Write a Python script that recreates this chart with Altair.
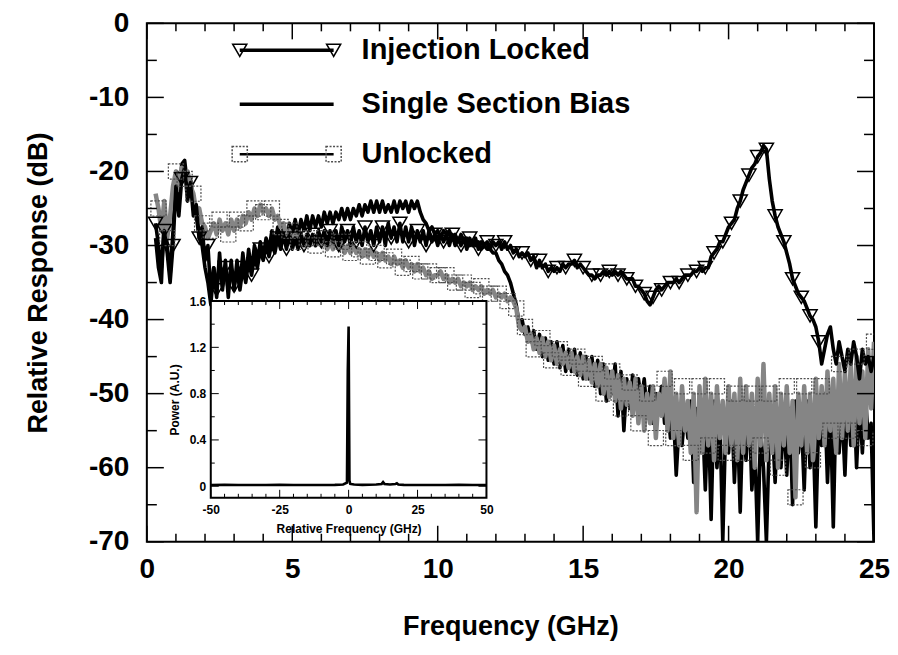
import numpy as np
import pandas as pd
import altair as alt

FONT = "Liberation Sans"

# ---------------- data ----------------
freq_start = 0.3   # GHz, first sample
freq_step = 0.1    # GHz, sampling step

injection_locked = [
    -27, -30, -33, -28, -31, -35, -30,
    -22, -26, -21, -19.5, -24, -21.5, -26, -24.5, -29, -27.5,
    -32, -30, -36.5, -33, -36, -32, -35.5, -33, -36, -33,
    -35.5, -33.5, -36, -33, -35, -32, -34, -31.5, -33, -30.5,
    -32, -30, -31.5, -29.5, -31, -29, -30.5, -28.5, -30.5, -28.5,
    -30.5, -29, -30.5, -28.5, -30, -28.5, -30, -28.5, -30, -28,
    -29.5, -28, -30, -28, -29.5, -28, -30, -27.5, -29.5, -28,
    -30, -27.5, -29.5, -28, -30, -27.5, -29.5, -28, -30, -27.5,
    -29.5, -27.5, -30, -27, -29, -27.5, -29.5, -27, -29.5, -27.5,
    -29.5, -27.5, -30, -28, -29.5, -28, -30, -28, -29.5, -28.5,
    -30, -28.5, -29.5, -28.5, -30, -28.5, -30, -29, -30, -29,
    -30.5, -29, -30, -29, -30.5, -29.5, -30, -29.5, -30.5, -29.5,
    -30, -29.5, -30.5, -29.5, -30.5, -30, -31, -30.5, -31.5, -31,
    -31.5, -31, -32, -31.5, -33, -32, -33, -32.5, -33.5, -33,
    -33.5, -33, -33.5, -32.5, -33, -32.5, -32.5, -32, -33, -32.5,
    -33, -33.5, -34, -34, -34.5, -34, -34, -33.5, -34, -33.5,
    -34, -33.5, -34, -33.5, -34, -34.5, -34.5, -34.5, -35.5, -35.5,
    -36, -36.5, -37.5, -38, -37, -36, -35.5, -36, -35.5, -35,
    -35, -35, -34.5, -35, -34.5, -34, -34, -34, -33.5, -33.5,
    -33, -33.5, -33, -33, -31.5, -31, -30.5, -29.5, -29.5, -28.5,
    -27.5, -27, -26.5, -25, -24, -22.5, -21.5, -20.5, -19.5, -19,
    -18, -17.5, -16.5, -17, -21, -24, -26, -27.5, -28.5, -29.5,
    -31, -32.5, -34.5, -35.5, -36.5, -37, -37.5, -38.5, -39.5, -40,
    -41, -43, -46, -44, -42, -41, -44, -46, -43, -45,
    -47, -44, -46, -43, -45, -48, -44, -46, -45, -47,
    -45,
]

single_section = [
    -29, -33, -35, -26, -30, -34, -28,
    -20, -24, -19, -18.5, -22, -21, -24, -26, -29, -30,
    -33, -35, -38, -33, -37, -31, -36, -32, -37, -32,
    -36, -32, -35.5, -31, -34.5, -30.5, -33.5, -30, -32.5, -29.5,
    -31.5, -29, -30.5, -28, -30, -27.5, -29.5, -27, -29, -27,
    -28.5, -26.5, -28.5, -26.5, -28, -26, -28, -26, -27.5, -26,
    -27.5, -25.5, -27, -25.5, -27, -25.5, -26.5, -25, -26.5, -25,
    -26.5, -25, -26, -24.5, -26, -24.5, -25.5, -24, -25.5, -24,
    -25.5, -24, -25.5, -24.5, -25.5, -24, -25.5, -24, -25, -24,
    -25.5, -24, -25, -24, -25.5, -26.5, -27, -28, -27.5, -28.5,
    -28, -29, -28, -28.5, -28, -29, -28.5, -29.5, -28.5, -29.5,
    -29, -30, -29.5, -30, -29.5, -30.5, -30, -30.5, -30.5, -31,
    -31, -32, -32.5, -33.5, -34, -35, -36.5, -38, -40.5, -40,
    -42, -41, -43, -41.5, -44, -42, -45, -42.5, -45.5, -43,
    -46, -43, -46.5, -43.5, -47, -44, -47, -44, -47.5, -44.5,
    -48, -45, -48, -45, -49, -45.5, -50, -46, -51, -47,
    -50, -46, -53, -47, -55, -48, -52, -47.5, -50, -48,
    -51, -48, -53, -49, -54, -50, -52, -49, -54, -51,
    -56, -52, -61, -54, -57, -52, -56, -51, -62, -52,
    -58, -53, -63, -52, -67, -51, -60, -53, -70, -54,
    -58, -51, -62, -53, -66, -52, -59, -51, -63, -57,
    -70, -55, -60, -70, -56, -54, -62, -52, -60, -53,
    -61, -52, -65, -51, -58, -53, -63, -51, -60, -54,
    -68, -53, -57, -50, -62, -52, -68, -50, -58, -52,
    -61, -50, -57, -49, -60, -51, -58, -50, -56, -54,
    -70,
]

unlocked = [
    -23, -25, -28, -24, -29, -26, -22,
    -20, -22.5, -19.5, -21, -20, -22, -23, -25.5, -25, -27,
    -27.5, -29, -28, -27, -28.5, -26.5, -28, -27, -28.5, -26.5,
    -28, -26.5, -27.5, -26, -27, -25.5, -26.5, -25, -26, -24.5,
    -25.5, -25, -26, -25, -26.5, -26, -27.5, -27, -28.5, -28,
    -29.5, -28.5, -29.5, -28.5, -30, -29, -30, -29, -30, -29,
    -30, -29, -30.5, -29.5, -30.5, -29.5, -30.5, -29.5, -31, -30,
    -31, -30, -31, -30.5, -31.5, -30.5, -31.5, -30.5, -31.5, -31,
    -32, -31, -32, -31.5, -32.5, -31.5, -32.5, -32, -33, -32,
    -33, -32.5, -33.5, -32.5, -33.5, -33, -34, -33.5, -34.5, -34,
    -34, -33.5, -34.5, -34, -35, -34.5, -35, -34.5, -35.5, -35,
    -35.5, -35, -36, -35.5, -36, -35.5, -36.5, -36, -36.5, -36,
    -37, -36.5, -37, -36.5, -37.5, -37, -37.5, -38.5, -41, -41.5,
    -41, -43, -42, -44, -42.5, -44.5, -42.5, -45, -43, -45.5,
    -43.5, -46, -44, -46, -44.5, -46.5, -44.5, -47, -45, -47.5,
    -45, -48, -45.5, -48.5, -46, -49, -46, -50, -46.5, -50.5,
    -47, -51, -47.5, -52, -48, -51.5, -48.5, -53, -48, -54,
    -49, -55, -50, -54, -49, -56, -50, -53, -48, -55,
    -47, -56, -50, -57, -49, -55, -51, -58, -50, -66,
    -49, -58, -48, -57, -50, -59, -49, -56, -51, -58,
    -49, -57, -50, -59, -48, -58, -49, -57, -50, -60,
    -48, -57, -46, -59, -50, -58, -49, -60, -50, -57,
    -49, -58, -51, -64, -50, -57, -49, -58, -50, -59,
    -48, -56, -49, -57, -47, -55, -48, -58, -46, -56,
    -47, -55, -46, -57, -45, -54, -47, -56, -44, -52,
    -43,
]

x_domain = [0, 25]
y_domain = [-70, 0]
x_major_ticks = [0, 5, 10, 15, 20, 25]
x_minor_ticks = [1, 2, 3, 4, 6, 7, 8, 9, 11, 12, 13, 14, 16, 17, 18, 19, 21, 22, 23, 24]
y_major_ticks = [0, -10, -20, -30, -40, -50, -60, -70]
y_minor_ticks = [-5, -15, -25, -35, -45, -55, -65]

# inset: optical spectrum
inset_freq = [-50, -45, -40, -35, -30, -25, -20, -15, -10, -5,
              -2, -0.6, -0.3, 0, 0.3, 0.6, 2,
              5, 10, 12, 12.5, 13, 15, 17, 17.5, 18, 20,
              25, 30, 35, 40, 45, 50]
inset_power = [0.01, 0.012, 0.01, 0.011, 0.01, 0.012, 0.01, 0.011, 0.01, 0.012,
               0.015, 0.03, 1.0, 1.38, 0.05, 0.02, 0.015,
               0.012, 0.015, 0.02, 0.035, 0.02, 0.015, 0.02, 0.025, 0.015, 0.012,
               0.01, 0.011, 0.01, 0.012, 0.01, 0.011]
inset_x_domain = [-50, 50]
inset_y_domain = [-0.1, 1.6]
inset_x_major = [-50, -25, 0, 25, 50]
inset_x_minor = [-45, -40, -35, -30, -20, -15, -10, -5, 5, 10, 15, 20, 30, 35, 40, 45]
inset_y_major = [0, 0.4, 0.8, 1.2, 1.6]
inset_y_minor = [0.2, 0.6, 1.0, 1.4]

legend_labels = ["Injection Locked", "Single Section Bias", "Unlocked"]

# ---------------- layout (pixels inside the plot area) ----------------
W, H = 728, 519
INSET_X = [64, 340]
INSET_Y = [475, 278]
LEG_Y = [27, 81, 131]
LEG_X1, LEG_X2, LEG_TX = 93, 187, 215
TRI_SIZE, SQ_SIZE = 200, 230

assert len(injection_locked) == len(single_section) == len(unlocked) == 248

n = len(injection_locked)
freq = np.round(freq_start + freq_step * np.arange(n), 1)
df_il = pd.DataFrame({"f": freq, "v": injection_locked})
df_ss = pd.DataFrame({"f": freq, "v": single_section})
df_un = pd.DataFrame({"f": freq, "v": unlocked})
df_tri = df_il[df_il["f"] <= 23.3].iloc[::3]
df_sq = df_un.iloc[1::3]

xs = alt.Scale(domain=x_domain, nice=False, zero=False)
ys = alt.Scale(domain=y_domain, nice=False, zero=False)

HYPHEN = "'' + datum.value"

common_axis = dict(ticks=False, domain=False, grid=False, labelFont=FONT,
                   labelFontWeight="bold", labelColor="black", titleFont=FONT,
                   titleFontWeight="bold", titleColor="black", labelOverlap=False)
x_axis = alt.Axis(values=x_major_ticks, labelExpr=HYPHEN, labelFontSize=28, labelPadding=14,
                  labelFlush=False, title="Frequency (GHz)", titleFontSize=27,
                  titlePadding=30, **common_axis)
y_axis = alt.Axis(values=y_major_ticks, labelExpr=HYPHEN, labelFontSize=28, labelPadding=18,
                  title="Relative Response (dB)", titleFontSize=27, titlePadding=36,
                  **common_axis)


def MX(field):
    return alt.X(field, type="quantitative", scale=xs, axis=x_axis)


def MY(field):
    return alt.Y(field, type="quantitative", scale=ys, axis=y_axis)


line_ss = alt.Chart(df_ss).mark_line(color="black", strokeWidth=3.6, clip=True,
                                     strokeJoin="round").encode(x=MX("f"), y=MY("v"))
line_un = alt.Chart(df_un).mark_line(color="#858585", strokeWidth=4.5, clip=True,
                                     strokeJoin="round").encode(x=MX("f"), y=MY("v"))
line_il = alt.Chart(df_il).mark_line(color="black", strokeWidth=3.6, clip=True,
                                     strokeJoin="round").encode(x=MX("f"), y=MY("v"))
pts_tri = alt.Chart(df_tri).mark_point(shape="triangle-down", size=TRI_SIZE, color="black",
                                       strokeWidth=1.5, opacity=1, clip=True).encode(
    x=MX("f"), y=MY("v"))
pts_sq = alt.Chart(df_sq).mark_point(shape="square", size=SQ_SIZE, color="#505050",
                                     strokeWidth=1.2, strokeDash=[2, 1.5], opacity=1,
                                     clip=True).encode(x=MX("f"), y=MY("v"))

tick_layers = []
for vals, ln in ((x_major_ticks, 16), (x_minor_ticks, 8)):
    d = pd.DataFrame({"t": vals})
    tick_layers.append(alt.Chart(d).mark_rule(color="black", strokeWidth=1.5).encode(
        x=MX("t"), y=alt.value(H), y2=alt.value(H - ln)))
    tick_layers.append(alt.Chart(d).mark_rule(color="black", strokeWidth=1.5).encode(
        x=MX("t"), y=alt.value(0), y2=alt.value(ln)))
for vals, ln in ((y_major_ticks, 17), (y_minor_ticks, 10)):
    d = pd.DataFrame({"t": vals})
    tick_layers.append(alt.Chart(d).mark_rule(color="black", strokeWidth=1.5).encode(
        y=MY("t"), x=alt.value(0), x2=alt.value(ln)))
    tick_layers.append(alt.Chart(d).mark_rule(color="black", strokeWidth=1.5).encode(
        y=MY("t"), x=alt.value(W), x2=alt.value(W - ln)))

# legend
one = pd.DataFrame({"k": [0]})
leg = []
leg_styles = [
    dict(width=3.4, marker="triangle-down", mcolor="black", dash=None, size=TRI_SIZE),
    dict(width=3.4, marker=None, mcolor=None, dash=None, size=None),
    dict(width=2.6, marker="square", mcolor="#505050", dash=[2, 1.5], size=SQ_SIZE),
]
for label, yy, st in zip(legend_labels, LEG_Y, leg_styles):
    leg.append(alt.Chart(one).mark_rule(color="black", strokeWidth=st["width"]).encode(
        x=alt.value(LEG_X1), x2=alt.value(LEG_X2), y=alt.value(yy)))
    if st["marker"]:
        for xx in (LEG_X1, LEG_X2):
            kw = dict(shape=st["marker"], size=st["size"], color=st["mcolor"],
                      strokeWidth=1.5, opacity=1)
            if st["dash"]:
                kw["strokeDash"] = st["dash"]
            leg.append(alt.Chart(one).mark_point(**kw).encode(
                x=alt.value(xx), y=alt.value(yy)))
    leg.append(alt.Chart(one).mark_text(align="left", baseline="middle", font=FONT,
                                        fontSize=29, fontWeight="bold", color="black",
                                        text=label).encode(
        x=alt.value(LEG_TX), y=alt.value(yy)))

main = alt.layer(line_ss, line_un, line_il, pts_tri, pts_sq, *tick_layers, *leg)

# ---------------- inset ----------------
ixs = alt.Scale(domain=inset_x_domain, range=INSET_X, nice=False, zero=False)
iys = alt.Scale(domain=inset_y_domain, range=INSET_Y, nice=False, zero=False)
inset_axis_common = dict(ticks=False, domain=False, grid=False, labelFont=FONT,
                         labelFontWeight="bold", labelColor="black", titleFont=FONT,
                         titleFontWeight="bold", titleColor="black", labelOverlap=False,
                         labelFontSize=12, titleFontSize=12)
ix_axis = alt.Axis(orient="bottom", offset=-(H - INSET_Y[0]), values=inset_x_major,
                   labelExpr=HYPHEN, labelPadding=7, labelFlush=False,
                   title="Relative Frequency (GHz)", titlePadding=8, **inset_axis_common)
iy_axis = alt.Axis(orient="left", offset=-INSET_X[0], values=inset_y_major,
                   labelExpr="datum.value == 0 ? '0' : format(datum.value, '.1f')",
                   labelPadding=5, title="Power (A.U.)", titlePadding=8,
                   **inset_axis_common)


def IX(field):
    return alt.X(field, type="quantitative", scale=ixs, axis=ix_axis)


def IY(field):
    return alt.Y(field, type="quantitative", scale=iys, axis=iy_axis)


frame_df = pd.DataFrame({"x": [inset_x_domain[0]], "x2": [inset_x_domain[1]],
                         "y": [inset_y_domain[0]], "y2": [inset_y_domain[1]]})
inset_frame = alt.Chart(frame_df).mark_rect(fill="white", stroke="black",
                                            strokeWidth=2).encode(
    x=IX("x"), x2="x2", y=IY("y"), y2="y2")
inset_df = pd.DataFrame({"f": inset_freq, "p": inset_power})
inset_line = alt.Chart(inset_df).mark_line(color="black", strokeWidth=2.6).encode(
    x=IX("f"), y=IY("p"))

inset_ticks = []
for vals, ln in ((inset_x_major, 8), (inset_x_minor, 4)):
    d = pd.DataFrame({"t": vals})
    inset_ticks.append(alt.Chart(d).mark_rule(color="black", strokeWidth=1).encode(
        x=IX("t"), y=alt.value(INSET_Y[0]), y2=alt.value(INSET_Y[0] - ln)))
    inset_ticks.append(alt.Chart(d).mark_rule(color="black", strokeWidth=1).encode(
        x=IX("t"), y=alt.value(INSET_Y[1]), y2=alt.value(INSET_Y[1] + ln)))
for vals, ln in ((inset_y_major, 8), (inset_y_minor, 4)):
    d = pd.DataFrame({"t": vals})
    inset_ticks.append(alt.Chart(d).mark_rule(color="black", strokeWidth=1).encode(
        y=IY("t"), x=alt.value(INSET_X[0]), x2=alt.value(INSET_X[0] + ln)))
    inset_ticks.append(alt.Chart(d).mark_rule(color="black", strokeWidth=1).encode(
        y=IY("t"), x=alt.value(INSET_X[1]), x2=alt.value(INSET_X[1] - ln)))

inset = alt.layer(inset_frame, inset_line, *inset_ticks)

chart = alt.layer(main, inset).resolve_scale(x="independent", y="independent").properties(
    width=W, height=H,
    padding={"left": 139, "top": 15, "right": 16, "bottom": 105},
    autosize=alt.AutoSizeParams(type="none"),
    background="white",
).configure_view(stroke="black", strokeWidth=2)

chart.save("out.html", embed_options={"renderer": "svg", "actions": False})
